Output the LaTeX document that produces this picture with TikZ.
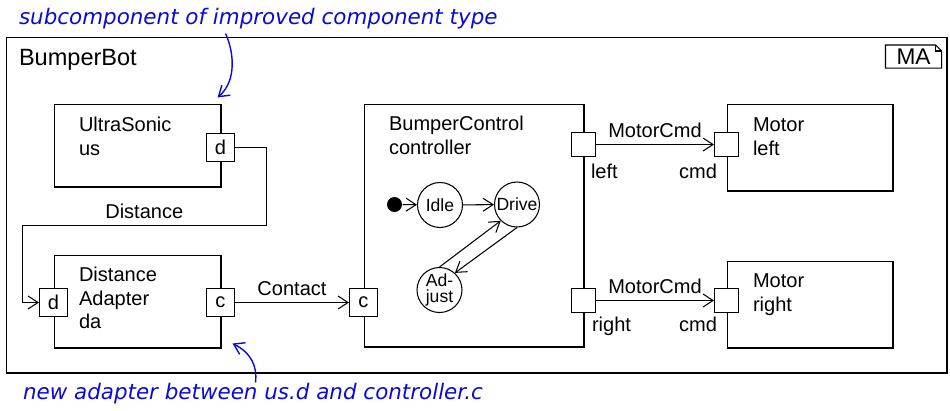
\documentclass[tikz,border=0pt]{standalone}
\usepackage{fontspec}
\setmainfont{Liberation Sans}
\newfontfamily\notefont{DejaVu Sans}
\usetikzlibrary{positioning,arrows.meta,calc}
\newcommand\boxfont{\fontsize{11.4}{13.5}\selectfont}
\newcommand\statefont{\fontsize{10}{9}\selectfont}
\definecolor{noteblue}{RGB}{10,10,215}

\begin{document}
\begin{tikzpicture}[
x=0.02cm,y=-0.02cm,
line width=0.6pt,
font=\boxfont,
>={Straight Barb[length=2mm,width=2.6mm]},
comp/.style={
draw,
anchor=north west,
minimum width=3.34cm,
inner sep=0
},
ctext/.style={
anchor=north west,
align=left,
inner sep=0
},
port/.style={
draw,
fill=white,
minimum size=0.56cm,
inner sep=0
},
smallport/.style={
draw,
fill=white,
minimum size=0.48cm,
inner sep=0
},
state/.style={
draw,
circle,
minimum size=0.9cm,
inner sep=0,
align=center,
font=\statefont
},
note/.style={
anchor=base west,
inner sep=0,
text=noteblue,
font=\notefont\itshape\fontsize{12.2}{14}\selectfont
},
notearrow/.style={
draw=noteblue,
line width=0.8pt,
->
}
]

\useasboundingbox (0,0) rectangle (950,410);

\begin{scope}[shift={(0.5,0.5)}]

% outer component
\node (bot)[draw,line width=1pt,anchor=north west,minimum width=18.82cm,minimum height=6.72cm,inner sep=0] at (5,36){};
\node (bot-text)[ctext,font=\fontsize{13.4}{15}\selectfont] at (18,48){BumperBot};

\node (ma)[minimum width=1.1cm,minimum height=0.44cm,inner sep=0,font=\fontsize{12.9}{14}\selectfont] at (913,56){MA};
\draw (ma.south west) -- (ma.north west) -- ($(ma.north east)+(-6,0)$) -- ($(ma.north east)+(0,6)$) -- (ma.south east) -- cycle;
\draw ($(ma.north east)+(-6,0)$) -- ($(ma.north east)+(-6,6)$) -- ($(ma.north east)+(0,6)$);

% subcomponents
\node (us)[comp,minimum height=1.66cm] at (53,103){};
\node (us-text)[ctext] at (78,116){UltraSonic\\us};

\node (da)[comp,minimum height=1.86cm] at (53,254){};
\node (da-text)[ctext] at (78,266){Distance\\Adapter\\da};

\node (ctl)[comp,minimum width=4.4cm,minimum height=4.86cm] at (363,103){};
\node (ctl-text)[ctext] at (388,115){BumperControl\\controller};

\node (ml)[comp,minimum width=3.32cm,minimum height=1.74cm] at (726,103){};
\node (ml-text)[ctext] at (752,117){Motor\\left};

\node (mr)[comp,minimum width=3.32cm,minimum height=1.74cm] at (726,260){};
\node (mr-text)[ctext] at (752,273){Motor\\right};

% ports
\node (usd)[port] at (220,147){d};
\node (dad)[port] at (53,302){d};
\node (dac)[port] at (220,302){c};
\node (ctlc)[port] at (363,302){c};
\node (ctll)[smallport] at (583,144){};
\node (ctlr)[smallport] at (583,300){};
\node (mlc)[smallport] at (726,144){};
\node (mrc)[smallport] at (726,300){};

\node (ctll-text)[ctext] at (590,163){left};
\node (ctlr-text)[ctext] at (591,316){right};
\node (mlc-text)[ctext,anchor=north east] at (717,163){cmd};
\node (mrc-text)[ctext,anchor=north east] at (717,316){cmd};

% connectors
\draw[->] (usd.east) -- ++(31,0) |- (22,225) node[pos=0.75,above]{Distance} |- (dad.west);
\draw[->] (dac.east) -- node[above]{Contact} (ctlc.west);
\draw[->] (ctll.east) -- node[above]{MotorCmd} (mlc.west);
\draw[->] (ctlr.east) -- node[above]{MotorCmd} (mrc.west);

% state machine
\node (init)[circle,fill,minimum size=0.3cm,inner sep=0] at (394,204){};
\node (idle)[state] at (439.5,204.5){Idle};
\node (drive)[state] at (516.5,204){Drive};
\node (adjust)[state] at (439,289.5){Ad-\\just};

\draw[->] (init) -- (idle);
\draw[->] (idle) -- (drive);
\draw[->] (adjust.90) -- (drive.225);
\draw[->] (drive.270) -- (adjust.48);

% notes
\node (note-top)[note] at (18,24){subcomponent of improved component type};
\node (note-bot)[note] at (22,399){new adapter between us.d and controller.c};

\coordinate (top-tail) at (225,33);
\coordinate (top-tip) at (217,97);
\coordinate (bot-tail) at (255,382);
\coordinate (bot-tip) at (232,343);

\draw[notearrow] (top-tail) .. controls (233,50) and (237,80) .. (top-tip);
\draw[notearrow] (bot-tail) .. controls (257,365) and (250,352) .. (bot-tip);

\end{scope}

\end{tikzpicture}
\end{document}
